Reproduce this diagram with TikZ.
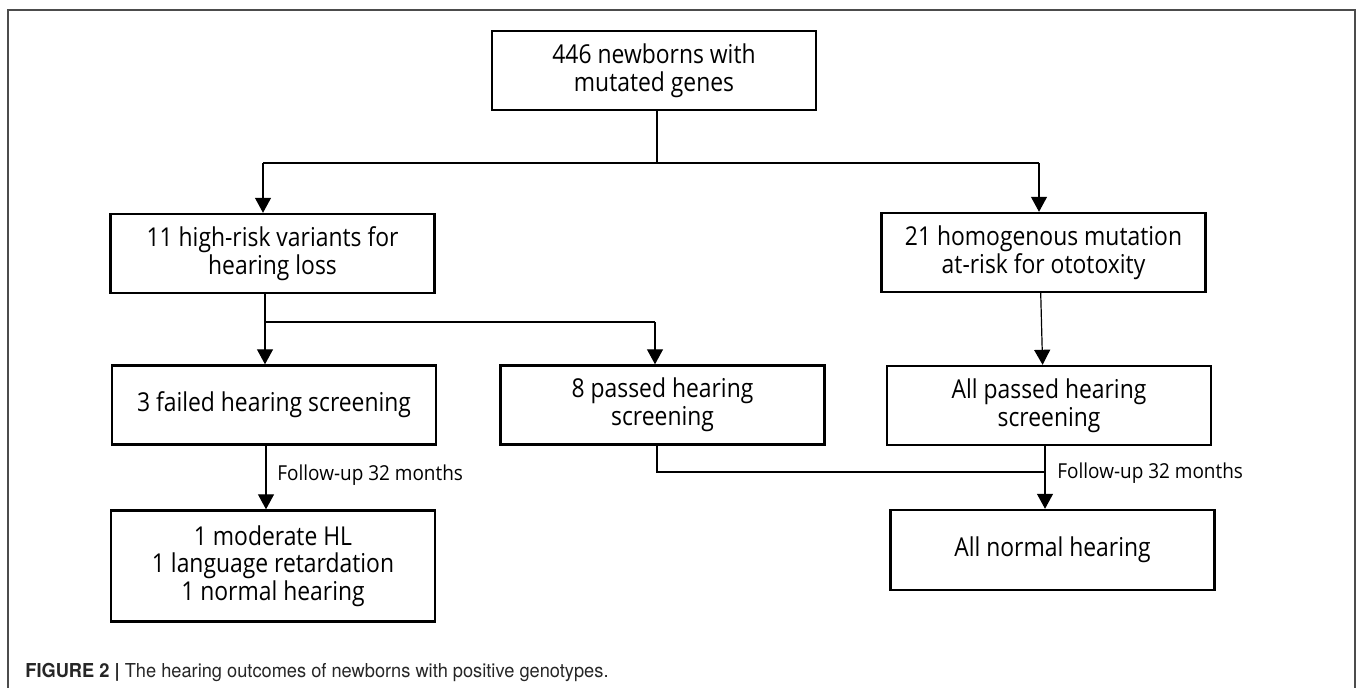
\documentclass[tikz,border=0pt]{standalone}
\usepackage{fontspec}
\setmainfont{Open Sans}[FakeStretch=0.88]
\newfontfamily\notefont[FakeStretch=0.92]{Open Sans}
\newfontfamily\capfont[FakeStretch=0.95]{TeX Gyre Heros}
\usetikzlibrary{arrows.meta}

\begin{document}
\begin{tikzpicture}[x=0.5pt,y=0.5pt,yscale=-1,xscale=1,
  flowbox/.style={draw,line width=1.2pt,minimum width=162pt,minimum height=39.5pt,inner sep=2pt,align=center,font=\fontsize{13}{13.8}\selectfont},
  link/.style={line width=0.6pt},
  linkarrow/.style={link,-{Triangle[length=7.5pt,width=8pt]}},
  note/.style={anchor=west,inner sep=0pt,font=\notefont\fontsize{10.3}{11}\selectfont}]
\useasboundingbox (0,0) rectangle (1358,688);
%Frame
\draw [line width=1pt,color=black!70] (8,700) -- (8,10) -- (1355,10) -- (1355,700);

%Boxes
\node [flowbox] (newborns) at (654,70.5) {446 newborns with\\mutated genes};
\node [flowbox] (highrisk) at (272.5,253.5) {11 high-risk variants for\\hearing loss};
\node [flowbox] (homog) at (1043.5,252.5) {21 homogenous mutation\\at-risk for ototoxity};
\node [flowbox] (failed) at (274,405) {3 failed hearing screening};
\node [flowbox] (passed) at (662.5,405) {8 passed hearing\\screening};
\node [flowbox] (allpassed) at (1049,405.5) {All passed hearing\\screening};
\node [flowbox,minimum height=55.5pt] (outcome) at (273,566) {1 moderate HL\\1 language retardation\\1 normal hearing};
\node [flowbox,minimum height=40pt] (normal) at (1052.5,550) {All normal hearing};

%Split below the first box
\coordinate (split) at (657,163);
\coordinate (toleft) at (263,163);
\coordinate (toright) at (1039,163);
\draw [link] (newborns.south -| split) -- (split);
\draw [link] (toleft) -- (toright);
\draw [linkarrow] (toleft) -- (toleft |- highrisk.north);
\draw [linkarrow] (toright) -- (toright |- homog.north);

%Screening results
\coordinate (branch) at (265,322);
\coordinate (tonext) at (655,322);
\draw [linkarrow] (highrisk.south -| branch) -- (branch |- failed.north);
\draw [link] (branch) -- (tonext);
\draw [linkarrow] (tonext) -- (tonext |- passed.north);
\draw [linkarrow] ([xshift=-1.4pt]homog.south) -- ([xshift=-3.2pt]allpassed.north);

%Follow-up
\coordinate (down) at (266,475);
\draw [linkarrow] (failed.south -| down) -- (down |- outcome.north);
\node [note] (followleft) at (277,475) {Follow-up 32 months};
\coordinate (fromeight) at (657,472);
\coordinate (merge) at (1045,472);
\draw [link] (passed.south -| fromeight) -- (fromeight) -- (merge);
\draw [linkarrow] (allpassed.south -| merge) -- (merge |- normal.north);
\node [note] (followright) at (1057,473) {Follow-up 32 months};

% Caption
\node [anchor=base west,inner sep=0pt,color=black!85,font=\capfont\fontsize{9.6}{11}\selectfont] (caption) at (25,677) {\textbf{FIGURE 2 |} The hearing outcomes of newborns with positive genotypes.};

\end{tikzpicture}
\end{document}
